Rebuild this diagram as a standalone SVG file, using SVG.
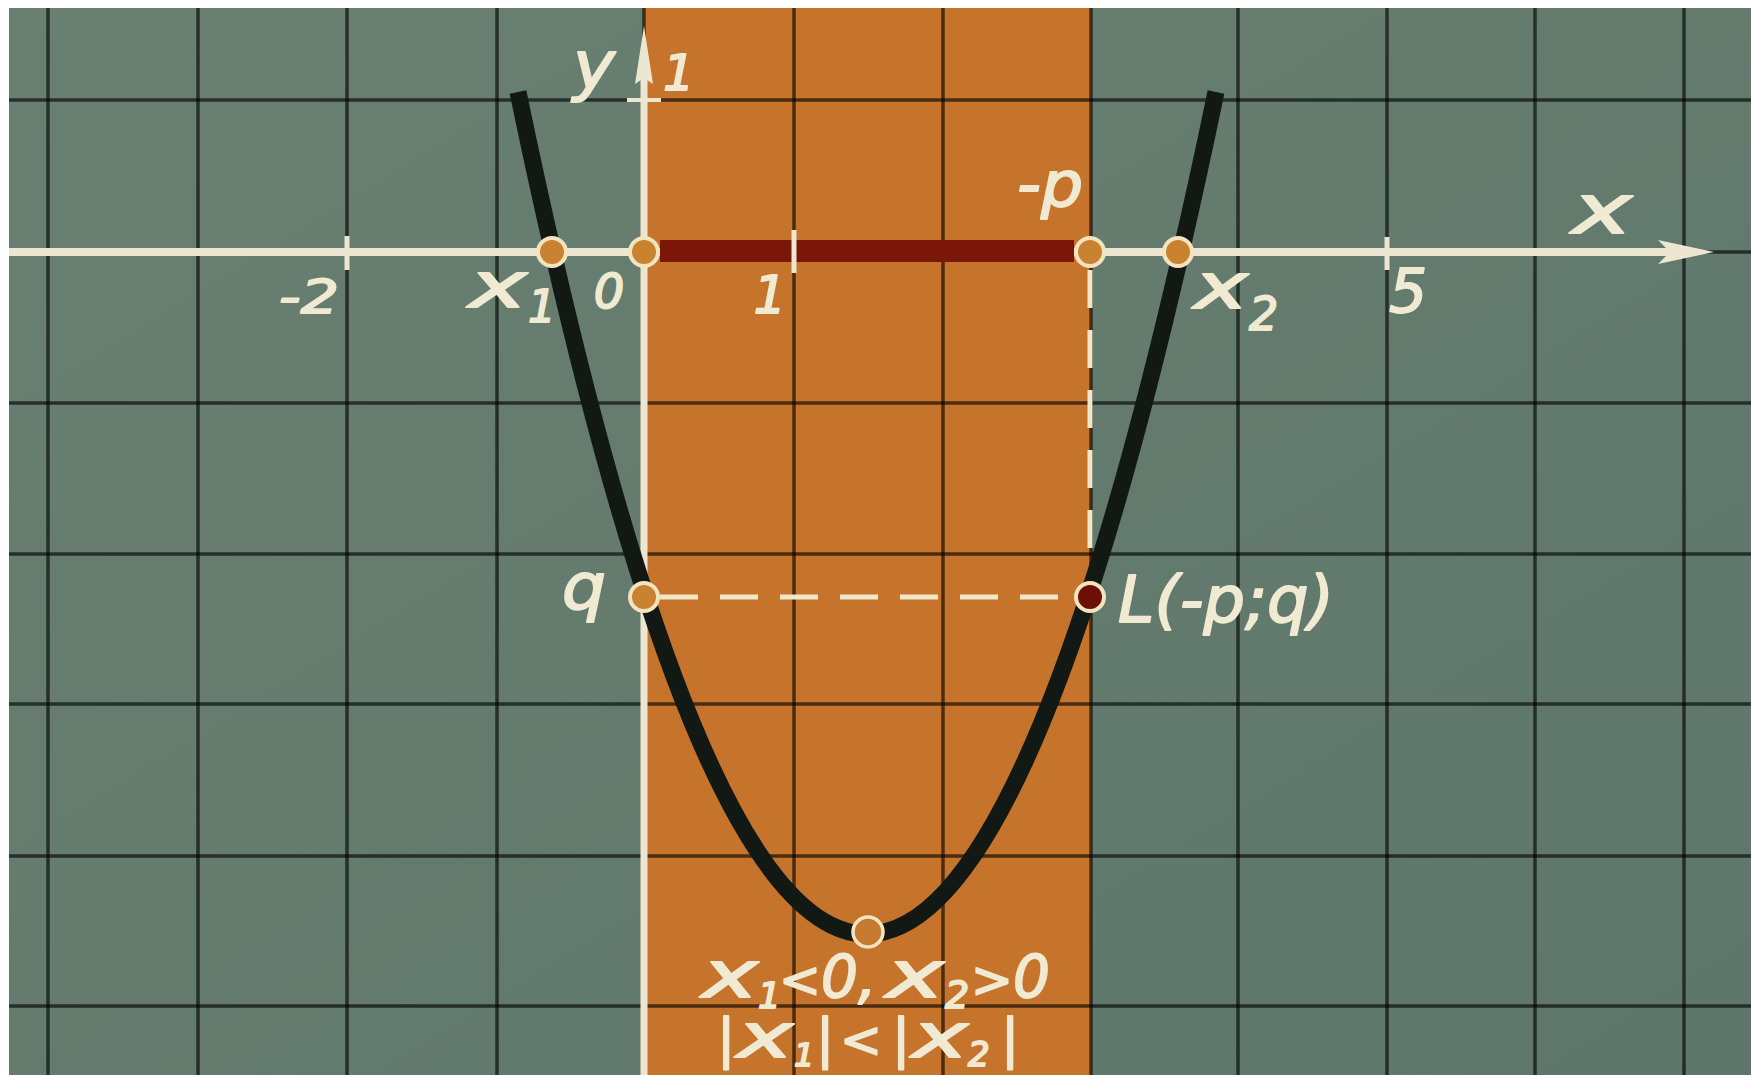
<svg xmlns="http://www.w3.org/2000/svg" width="1751" height="1075" viewBox="0 0 1751 1075">
<style>
.grid{stroke:#000;stroke-opacity:0.62;stroke-width:3.5}
.axis{stroke:#ede7d2;fill:none}
.dash{stroke:#f1e7cb;stroke-width:5;stroke-dasharray:38 22;fill:none}
.pt{fill:#c98230;stroke:#f3e4c0;stroke-width:4}
.t{fill:#f0ead3;stroke:#f0ead3;stroke-width:1.8;stroke-linejoin:round;font-family:"DejaVu Sans","Liberation Sans",sans-serif;font-style:italic}
</style>
<defs>
<linearGradient id="bg" x1="0" y1="0" x2="1" y2="1">
<stop offset="0" stop-color="#687f71"/>
<stop offset="1" stop-color="#5f776b"/>
</linearGradient>
</defs>
<rect width="1751" height="1075" fill="#ffffff"/>
<rect x="9" y="8" width="1742" height="1067" fill="url(#bg)"/>
<rect id="band" x="644" y="8" width="447" height="1067" fill="#c6742c"/>
<g id="grid" class="grid">
<line x1="48" y1="8" x2="48" y2="1075"/>
<line x1="198" y1="8" x2="198" y2="1075"/>
<line x1="347" y1="8" x2="347" y2="1075"/>
<line x1="497" y1="8" x2="497" y2="1075"/>
<line x1="644" y1="8" x2="644" y2="1075"/>
<line x1="794" y1="8" x2="794" y2="1075"/>
<line x1="943" y1="8" x2="943" y2="1075"/>
<line x1="1091" y1="8" x2="1091" y2="1075"/>
<line x1="1238" y1="8" x2="1238" y2="1075"/>
<line x1="1387" y1="8" x2="1387" y2="1075"/>
<line x1="1535" y1="8" x2="1535" y2="1075"/>
<line x1="1684" y1="8" x2="1684" y2="1075"/>
<line x1="9" y1="100" x2="1751" y2="100"/>
<line x1="9" y1="252" x2="1751" y2="252"/>
<line x1="9" y1="403" x2="1751" y2="403"/>
<line x1="9" y1="554" x2="1751" y2="554"/>
<line x1="9" y1="704" x2="1751" y2="704"/>
<line x1="9" y1="856" x2="1751" y2="856"/>
<line x1="9" y1="1006" x2="1751" y2="1006"/>
</g>
<g id="axes">
<line class="axis" x1="9" y1="252" x2="1672" y2="252" stroke-width="8"/>
<polygon points="1714,252 1658,240 1670,252 1658,264" fill="#ede7d2"/>
<line class="axis" x1="644" y1="1075" x2="644" y2="76" stroke-width="7"/>
<polygon points="644,26 653,84 644,78 635,84" fill="#ede7d2"/>
<line class="axis" x1="627" y1="100" x2="661" y2="100" stroke-width="4"/>
<line class="axis" x1="347" y1="236" x2="347" y2="270" stroke-width="5"/>
<line class="axis" x1="1387" y1="237" x2="1387" y2="270" stroke-width="5"/>
</g>
<g id="segment">
<line x1="660" y1="251" x2="1074" y2="251" stroke="#7a1709" stroke-width="22"/>
<line class="axis" x1="794" y1="230" x2="794" y2="273" stroke-width="5"/>
</g>
<g id="connectors">
<line class="dash" x1="660" y1="597" x2="1074" y2="597"/>
<line class="dash" x1="1090" y1="270" x2="1090" y2="581"/>
<path id="parabola" d="M518,92 Q692.5,934 867,934 Q1041.5,934 1216,92" fill="none" stroke="#121915" stroke-width="17"/>
</g>
<g id="points">
<circle id="p-x1" class="pt" cx="552" cy="252" r="14"/>
<circle id="p-0" class="pt" cx="644" cy="252" r="14"/>
<circle id="p-mp" class="pt" cx="1090" cy="252" r="14"/>
<circle id="p-x2" class="pt" cx="1178" cy="252" r="14"/>
<circle id="p-q" class="pt" cx="644" cy="597" r="14"/>
<circle id="p-L" class="pt" cx="1090" cy="597" r="14" style="fill:#6e0f07"/>
<circle id="p-vertex" class="pt" cx="868" cy="932" r="15" style="fill:#c67a30;stroke-width:3.5"/>
</g>
<g id="labels">
<g id="lbl-y"><text class="t" x="573" y="88" font-size="66" textLength="42" lengthAdjust="spacingAndGlyphs">y</text></g>
<g id="lbl-y1"><text class="t" x="679" y="90" font-size="50" text-anchor="middle">1</text></g>
<g id="lbl-m2"><text class="t" x="279" y="313" font-size="46" textLength="60" lengthAdjust="spacingAndGlyphs">-2</text></g>
<g id="lbl-x1"><text class="t" y="307"><tspan x="469" font-size="62" textLength="58" lengthAdjust="spacingAndGlyphs">x</tspan><tspan x="528" y="322" font-size="44">1</tspan></text></g>
<g id="lbl-0"><text class="t" x="609" y="308" font-size="48" text-anchor="middle">0</text></g>
<g id="lbl-1"><text class="t" x="770" y="313" font-size="52" text-anchor="middle">1</text></g>
<g id="lbl-mp"><text class="t" x="1017" y="206" font-size="62" textLength="66" lengthAdjust="spacingAndGlyphs">-p</text></g>
<g id="lbl-x"><text class="t" x="1572" y="233" font-size="68" textLength="60" lengthAdjust="spacingAndGlyphs">x</text></g>
<g id="lbl-x2"><text class="t" y="308"><tspan x="1194" font-size="62" textLength="54" lengthAdjust="spacingAndGlyphs">x</tspan><tspan x="1249" y="330" font-size="46">2</tspan></text></g>
<g id="lbl-5"><text class="t" x="1408" y="312" font-size="60" text-anchor="middle">5</text></g>
<g id="lbl-q"><text class="t" x="562" y="609" font-size="64" textLength="44" lengthAdjust="spacingAndGlyphs">q</text></g>
<g id="lbl-L"><text class="t" x="1118" y="622" font-size="64" textLength="216" lengthAdjust="spacingAndGlyphs">L(-p;q)</text></g>
<g id="lbl-cond">
<text class="t" y="997"><tspan x="702" font-size="64" textLength="56" lengthAdjust="spacingAndGlyphs">x</tspan><tspan x="758" y="1008" font-size="36">1</tspan><tspan x="779" y="997" font-size="50">&lt;</tspan><tspan x="821" font-size="58">0</tspan><tspan x="858" font-size="58">,</tspan><tspan x="886" font-size="64" textLength="58" lengthAdjust="spacingAndGlyphs">x</tspan><tspan x="945" y="1008" font-size="38">2</tspan><tspan x="971" y="997" font-size="50">&gt;</tspan><tspan x="1013" font-size="58">0</tspan></text>
<text class="t" y="1057"><tspan x="717" font-size="54">|</tspan><tspan x="737" font-size="60" textLength="56" lengthAdjust="spacingAndGlyphs">x</tspan><tspan x="794" y="1066" font-size="32">1</tspan><tspan x="816" y="1057" font-size="54">|</tspan><tspan x="840" font-size="50">&lt;</tspan><tspan x="892" font-size="54">|</tspan><tspan x="912" font-size="60" textLength="56" lengthAdjust="spacingAndGlyphs">x</tspan><tspan x="968" y="1066" font-size="34">2</tspan><tspan x="1001" y="1057" font-size="54">|</tspan></text>
</g>
</g>
</svg>
